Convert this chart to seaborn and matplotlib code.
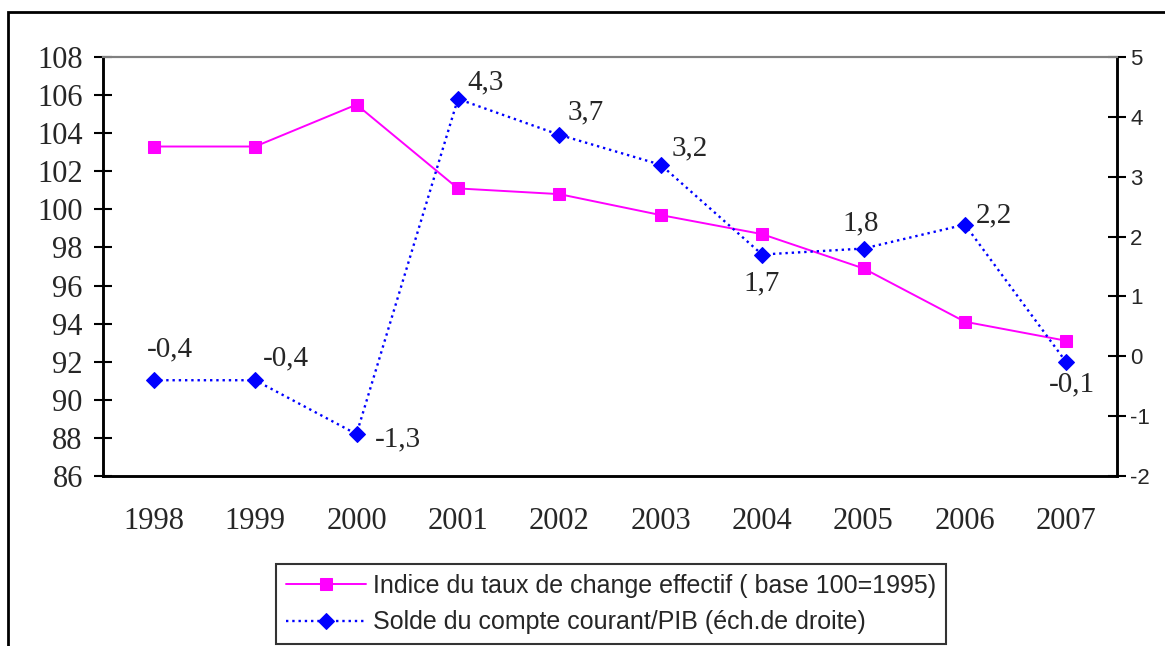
import numpy as np
import pandas as pd
import matplotlib
matplotlib.use("Agg")
import matplotlib.pyplot as plt
from matplotlib.patches import Rectangle
from matplotlib.ticker import FixedLocator, NullFormatter
import seaborn as sns

years = [1998, 1999, 2000, 2001, 2002, 2003, 2004, 2005, 2006, 2007]
indice = [103.3, 103.3, 105.5, 101.1, 100.8, 99.7, 98.7, 96.9, 94.1, 93.1]
solde = [-0.4, -0.4, -1.3, 4.3, 3.7, 3.2, 1.7, 1.8, 2.2, -0.1]
solde_labels = ["-0,4", "-0,4", "-1,3", "4,3", "3,7", "3,2", "1,7", "1,8", "2,2", "-0,1"]
# offsets of the value labels (points) relative to each diamond
label_offsets = [(12, 22), (22, 16), (30, -4), (20, 12), (19, 16), (21, 12), (0, -21), (-2, 18), (21, 7), (4, -16)]

label_indice = "Indice du taux de change effectif ( base 100=1995)"
label_solde = "Solde du compte courant/PIB (éch.de droite)"

df = pd.DataFrame({"annee": years, "indice": indice, "solde": solde})

sns.set_style("white")
plt.rcParams["axes.unicode_minus"] = False
serif = ["Liberation Serif", "DejaVu Serif"]
sans = ["Liberation Sans", "DejaVu Sans"]

fig = plt.figure(figsize=(11.65, 6.46), dpi=100)
ax = fig.add_axes([103 / 1165, 1 - 476 / 646, (1117 - 103) / 1165, (476 - 57) / 646])
ax2 = ax.twinx()

sns.lineplot(data=df, x="annee", y="indice", ax=ax, color="#FF00FF", marker="s",
             markersize=8.5, markeredgecolor="#FF00FF", linewidth=1.4, legend=False)
sns.lineplot(data=df, x="annee", y="solde", ax=ax2, color="#0000FF", marker="D",
             markersize=8, markeredgecolor="#0000FF", linewidth=1.7, linestyle=":",
             legend=False)

for x, y, t, off in zip(years, solde, solde_labels, label_offsets):
    ax2.annotate(t, (x, y), xytext=off, textcoords="offset points", ha="center",
                 va="center", fontsize=21, family=serif)

ax.set_xlim(1997.5, 2007.5)
ax.set_ylim(86, 108)
ax2.set_ylim(-2, 5)
ax.set_yticks(np.arange(86, 109, 2))
ax2.set_yticks(np.arange(-2, 6, 1))
ax.set_xticks(years)
ax.set_xticklabels([str(y) for y in years], family=serif, fontsize=22)
ax.xaxis.set_minor_locator(FixedLocator(np.arange(1997.5, 2008, 1)))
ax.xaxis.set_minor_formatter(NullFormatter())
ax.set_xlabel("")
ax.set_ylabel("")
ax2.set_ylabel("")

for lab in ax.get_yticklabels():
    lab.set_family(serif)
    lab.set_fontsize(22)
for lab in ax2.get_yticklabels():
    lab.set_family(sans)
    lab.set_fontsize(16)

ax.tick_params(axis="x", which="major", length=0, pad=22)
ax.tick_params(axis="x", which="minor", direction="inout", length=14, width=1.5, color="black")
ax.tick_params(axis="y", direction="inout", length=13, width=1.5, color="black", pad=8)
ax2.tick_params(axis="y", direction="inout", length=13, width=1.5, color="black", pad=3)

for a in (ax, ax2):
    for side in ("left", "right", "bottom"):
        a.spines[side].set_color("black")
        a.spines[side].set_linewidth(1.8)
    a.spines["top"].set_color("#808080")
    a.spines["top"].set_linewidth(1.5)

h1 = ax.get_lines()[0]
h2 = ax2.get_lines()[0]
leg = fig.legend([h1, h2], [label_indice, label_solde], loc="center",
                 bbox_to_anchor=(611 / 1165, 1 - 604 / 646), frameon=True,
                 fancybox=False, prop={"family": sans, "size": 18},
                 handlelength=3.2, borderpad=0.4, labelspacing=0.5, handletextpad=0.25,
                 borderaxespad=0)
leg.get_frame().set_edgecolor("black")
leg.get_frame().set_linewidth(1.5)

fig.add_artist(Rectangle((8 / 1165, -0.2), 1.2, 1.2 - 12 / 646, fill=False,
                         edgecolor="black", linewidth=2, transform=fig.transFigure))

fig.savefig("out.png", dpi=100)
